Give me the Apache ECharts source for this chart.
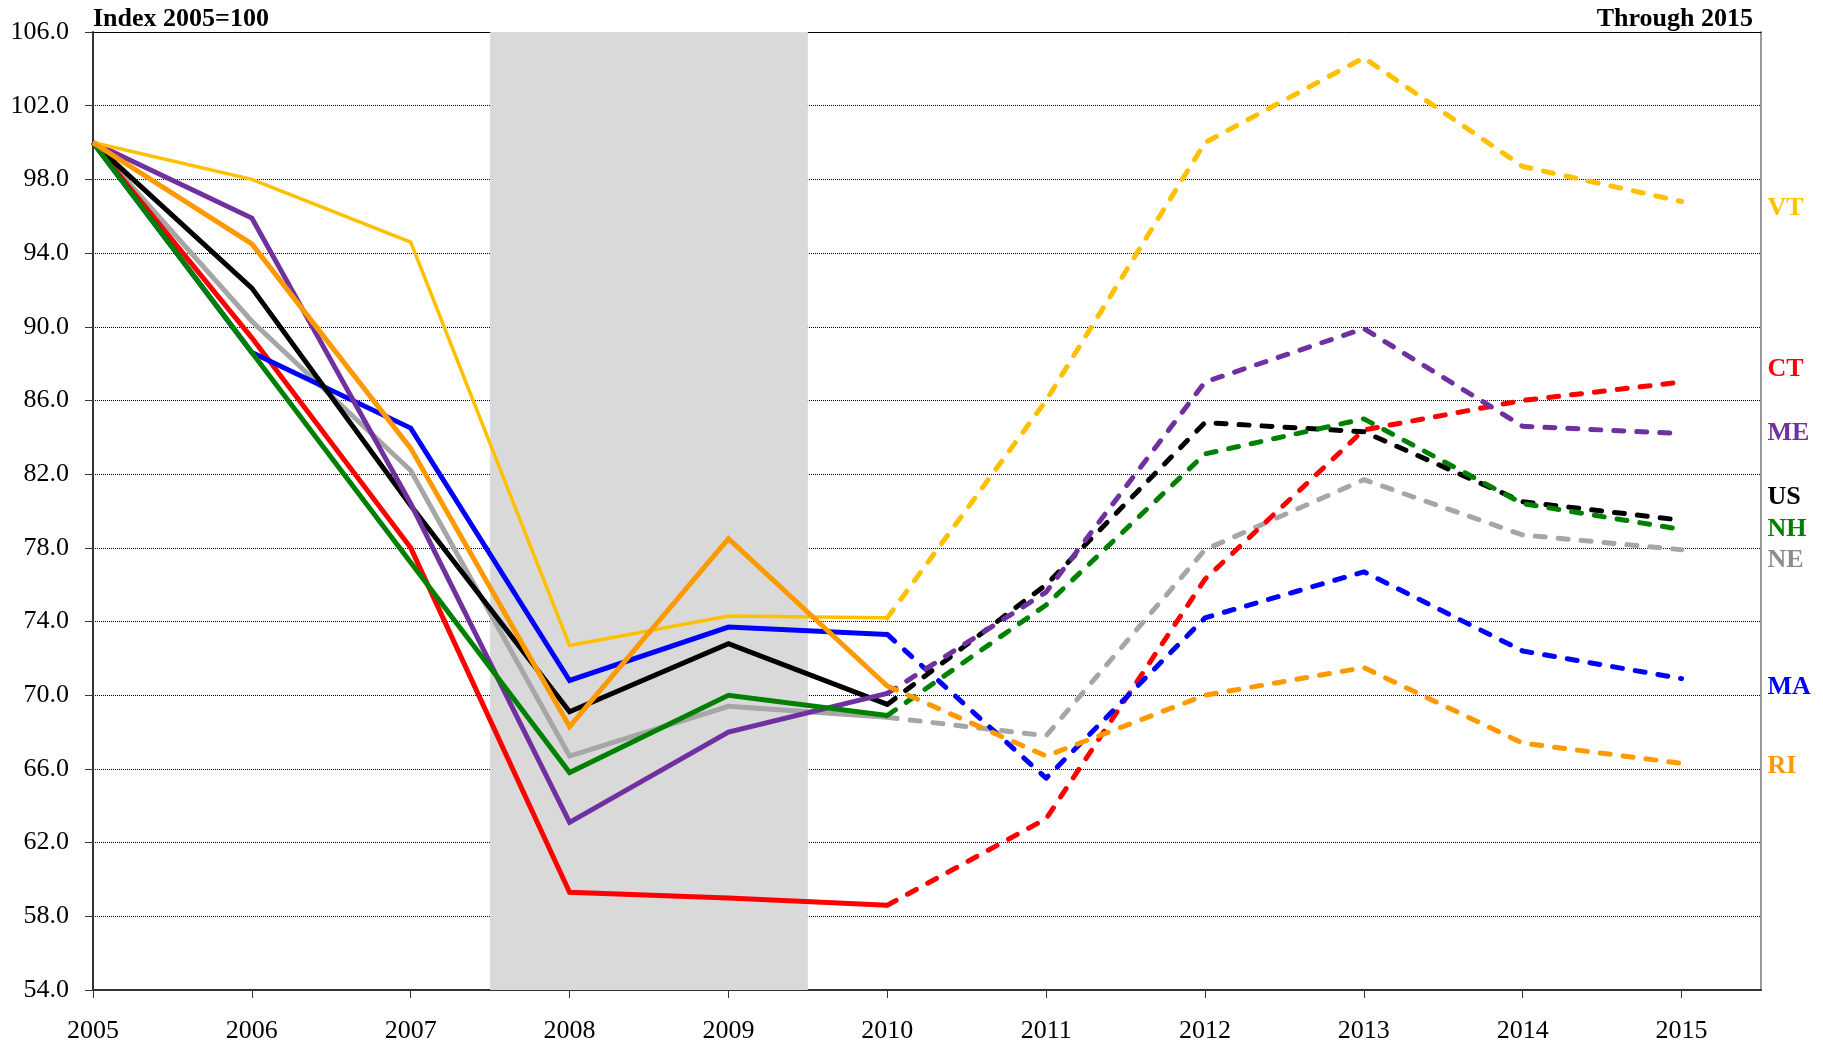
<!DOCTYPE html>
<html><head><meta charset="utf-8">
<script src="https://cdn.jsdelivr.net/npm/echarts@6/dist/echarts.min.js"></script>
<style>html,body{margin:0;padding:0;background:#fff}#c{width:1823px;height:1045px}</style>
</head><body><div id="c"></div>
<script>
const years = [2005, 2006, 2007, 2008, 2009, 2010, 2011, 2012, 2013, 2014, 2015];
const yTicks = [54, 58, 62, 66, 70, 74, 78, 82, 86, 90, 94, 98, 102, 106];
const VT = [100, 98.0, 94.6, 72.7, 74.3, 74.2, 86.0, 100.0, 104.6, 98.7, 96.8];
const CT = [100, 89.4, 78.0, 59.3, 59.0, 58.6, 63.3, 76.3, 84.4, 86.0, 87.0];
const ME = [100, 95.9, 80.4, 63.1, 68.0, 70.1, 75.6, 87.0, 89.9, 84.6, 84.2];
const US = [100, 92.1, 80.3, 69.1, 72.8, 69.5, 76.0, 84.8, 84.3, 80.5, 79.5];
const NH = [100, 88.6, 77.2, 65.8, 70.0, 68.9, 74.9, 83.1, 85.0, 80.4, 79.0];
const NE = [100, 90.3, 82.2, 66.7, 69.4, 68.8, 67.8, 77.9, 81.7, 78.7, 77.9];
const MA = [100, 88.6, 84.5, 70.8, 73.7, 73.3, 65.5, 74.2, 76.7, 72.4, 70.9];
const RI = [100, 94.5, 83.4, 68.3, 78.5, 70.5, 66.7, 70.0, 71.5, 67.4, 66.3];
const recession = [2007.5, 2009.5];
const lastActual = 2010;

const FONT = '"Liberation Serif", "Times New Roman", serif';
// drawing order: bottom to top
const states = [
  {name: 'NE', data: NE, color: '#A6A6A6', label: '#8C8C8C', w: 5, dy: 11},
  {name: 'CT', data: CT, color: '#FF0000', label: '#FF0000', w: 5, dy: -13},
  {name: 'MA', data: MA, color: '#0000FF', label: '#0000FF', w: 5, dy: 9},
  {name: 'US', data: US, color: '#000000', label: '#000000', w: 5, dy: -23},
  {name: 'ME', data: ME, color: '#7030A0', label: '#7030A0', w: 5, dy: 0},
  {name: 'NH', data: NH, color: '#008000', label: '#008000', w: 5, dy: 0},
  {name: 'VT', data: VT, color: '#FFC000', label: '#FFC000', w: 3.5, dy: 7},
  {name: 'RI', data: RI, color: '#FF9900', label: '#FF9900', w: 5, dy: 3}
];

const series = [];
states.forEach((s, k) => {
  const pts = years.map((y, i) => [y, s.data[i]]);
  const solid = {
    name: s.name, type: 'line', xAxisIndex: 0, yAxisIndex: 0,
    data: pts.filter(p => p[0] <= lastActual),
    symbol: 'none', z: 3 + k,
    lineStyle: {color: s.color, width: s.w, type: 'solid', join: 'miter'},
    itemStyle: {color: s.color}
  };
  if (k === 0) {
    solid.markArea = {
      silent: true,
      itemStyle: {color: '#D9D9D9'},
      data: [[{xAxis: recession[0]}, {xAxis: recession[1]}]]
    };
  }
  series.push(solid);
  series.push({
    name: s.name, type: 'line', xAxisIndex: 0, yAxisIndex: 0,
    data: pts.filter(p => p[0] >= lastActual),
    symbol: 'none', z: 3 + k,
    lineStyle: {color: s.color, width: 5, type: [10, 13], cap: 'round', join: 'round'},
    itemStyle: {color: s.color},
    endLabel: {
      show: true, formatter: s.name, color: s.label,
      fontFamily: FONT, fontWeight: 'bold', fontSize: 26,
      offset: [78, s.dy]
    }
  });
});

const chart = echarts.init(document.getElementById('c'), null, {renderer: 'canvas'});
chart.setOption({
  animation: false,
  backgroundColor: '#fff',
  title: [
    {text: 'Index 2005=100', left: 88, top: 1,
     textStyle: {fontFamily: FONT, fontWeight: 'bold', fontSize: 26, color: '#000'}},
    {text: 'Through 2015', right: 65, top: 1,
     textStyle: {fontFamily: FONT, fontWeight: 'bold', fontSize: 26, color: '#000'}}
  ],
  grid: {left: 93, right: 62, top: 32, bottom: 55, containLabel: false},
  xAxis: [{
    type: 'value', min: 2005, max: 2015.5, interval: 1,
    axisLine: {show: true, onZero: false, lineStyle: {color: '#333', width: 2}},
    axisTick: {show: true, inside: false, length: 8, customValues: years, lineStyle: {color: '#333', width: 1}},
    axisLabel: {customValues: years, margin: 28, fontFamily: FONT, fontSize: 26, color: '#000',
                formatter: v => String(v)},
    splitLine: {show: false}
  }, {
    type: 'value', position: 'top', min: 2005, max: 2015.5,
    axisLine: {show: true, onZero: false, lineStyle: {color: '#000', width: 1}},
    axisTick: {show: false}, axisLabel: {show: false}, splitLine: {show: false}
  }],
  yAxis: [{
    type: 'value', min: 54, max: 106, interval: 4,
    axisLine: {show: true, onZero: false, lineStyle: {color: '#333', width: 2}},
    axisTick: {show: true, inside: false, length: 8, lineStyle: {color: '#333'}},
    axisLabel: {margin: 24, fontFamily: FONT, fontSize: 26, color: '#000',
                formatter: v => v.toFixed(1)},
    splitLine: {show: true, lineStyle: {color: '#000', width: 1, type: [1, 1]}}
  }, {
    type: 'value', position: 'right', min: 54, max: 106,
    axisLine: {show: true, onZero: false, lineStyle: {color: '#999', width: 2}},
    axisTick: {show: false}, axisLabel: {show: false}, splitLine: {show: false}
  }],
  series: series
});
</script></body></html>
